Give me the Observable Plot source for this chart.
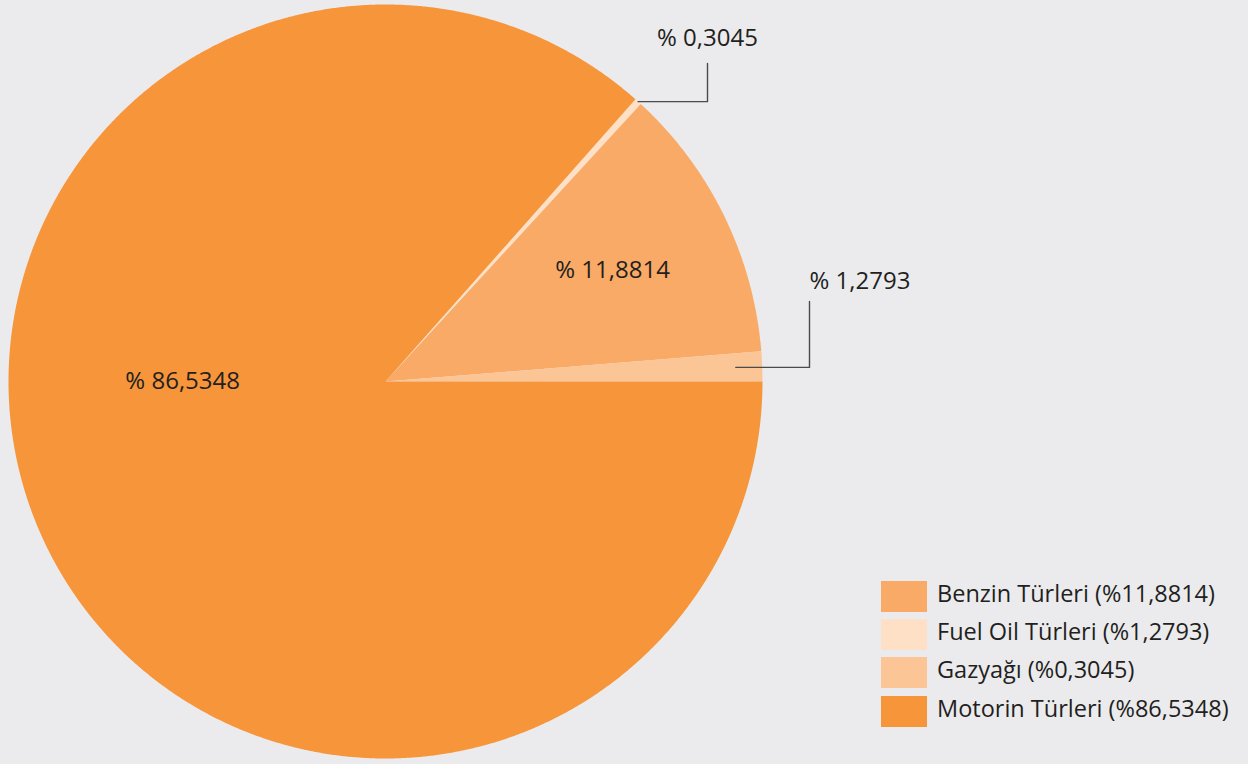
<!DOCTYPE html>
<html>
<head>
<meta charset="utf-8">
<script src="https://cdn.jsdelivr.net/npm/d3@7"></script>
<script src="https://cdn.jsdelivr.net/npm/@observablehq/plot@0.6"></script>
<style>
  html, body { margin: 0; padding: 0; background: #ebebee; }
  #wrap { position: relative; width: 1248px; height: 764px; overflow: hidden; font-family: "Open Sans", sans-serif; }
  #legend { position: absolute; left: 881px; top: 577px; }
  .row { display: flex; align-items: center; height: 38.3px; }
  .sw { width: 46px; height: 31px; margin-right: 10px; }
  .lt { font-size: 23.5px; color: #231f20; white-space: nowrap; line-height: 31px; position: relative; top: -3px; }
</style>
</head>
<body>
<div id="wrap"></div>
<script>
// ---- data ----
const categories = ["Benzin Türleri", "Fuel Oil Türleri", "Gazyağı", "Motorin Türleri"];
const shares = [11.8814, 1.2793, 0.3045, 86.5348];
const shareLabels = ["11,8814", "1,2793", "0,3045", "86,5348"];
const legendColors = ["#f9aa66", "#fde0c5", "#fcc596", "#f7953a"];
// pie slices in clockwise drawing order (colours as they appear in the picture)
const pieOrder = ["Gazyağı", "Benzin Türleri", "Fuel Oil Türleri", "Motorin Türleri"];
const pieColors = ["#fde0c5", "#f9aa66", "#fcc596", "#f7953a"];

// ---- layout ----
const W = 1248, H = 764, cx = 385, cy = 381, R = 377;
const share = c => shares[categories.indexOf(c)];
const sliceVals = pieOrder.map(share);
const beforeLast = d3.sum(sliceVals.slice(0, 3));
const start = Math.PI / 2 - 2 * Math.PI * beforeLast / 100;
const arcs = d3.pie().sort(null).value(d => d).startAngle(start).endAngle(start + 2 * Math.PI)(sliceVals);
const polar = (a, r) => [Math.sin(a) * r, Math.cos(a) * r];

const polys = arcs.map((a, i) => {
  const pts = [[0, 0]];
  const n = Math.max(2, Math.ceil((a.endAngle - a.startAngle) / (Math.PI / 720)));
  for (let k = 0; k <= n; k++) pts.push(polar(a.startAngle + (a.endAngle - a.startAngle) * k / n, 1));
  pts.push([0, 0]);
  return {color: pieColors[i], pts};
});
const arcOf = c => arcs[pieOrder.indexOf(c)];
const mid = a => (a.startAngle + a.endAngle) / 2;

// inside labels
const inside = [
  {cat: "Benzin Türleri", p: polar(mid(arcOf("Benzin Türleri")), 0.67)},
  {cat: "Motorin Türleri", p: [-0.538, 0]}
].map(d => ({x: d.p[0], y: d.p[1], text: "% " + shareLabels[categories.indexOf(d.cat)]}));

// leader labels
const leaders = [
  {cat: "Gazyağı", r: 1.0, ex: (707 - cx) / R, ey: (cy - 63) / R, anchor: "middle", dy: -25},
  {cat: "Fuel Oil Türleri", r: 0.93, ex: (809 - cx) / R, ey: (cy - 301) / R, anchor: "start", dy: -20}
].map(d => {
  const [sx, sy] = polar(mid(arcOf(d.cat)), d.r);
  return {...d, pts: [[sx, sy], [d.ex, sy], [d.ex, d.ey]], text: "% " + shareLabels[categories.indexOf(d.cat)]};
});

const marks = [];
polys.forEach(p => marks.push(Plot.line(p.pts, {x: d => d[0], y: d => d[1], fill: p.color, stroke: "none", curve: "linear"})));
leaders.forEach(l => {
  marks.push(Plot.line(l.pts, {x: d => d[0], y: d => d[1], stroke: "#4a4a4a", strokeWidth: 1.4}));
  marks.push(Plot.text([l], {x: "ex", y: "ey", text: "text", textAnchor: l.anchor, dy: l.dy, fontSize: 24, fill: "#231f20"}));
});
marks.push(Plot.text(inside, {x: "x", y: "y", text: "text", fontSize: 24, fill: "#231f20"}));

const chart = Plot.plot({
  width: W, height: H, margin: 0,
  style: {background: "#ebebee", fontFamily: "Open Sans, sans-serif"},
  x: {domain: [-1, 1], range: [cx - R, cx + R], axis: null},
  y: {domain: [-1, 1], range: [cy + R, cy - R], axis: null},
  marks
});
const wrap = document.getElementById("wrap");
wrap.appendChild(chart);

const legend = document.createElement("div");
legend.id = "legend";
categories.forEach((c, i) => {
  const row = document.createElement("div"); row.className = "row";
  const sw = document.createElement("div"); sw.className = "sw"; sw.style.background = legendColors[i];
  const t = document.createElement("div"); t.className = "lt"; t.textContent = `${c} (%${shareLabels[i]})`;
  row.appendChild(sw); row.appendChild(t); legend.appendChild(row);
});
wrap.appendChild(legend);
</script>
</body>
</html>
